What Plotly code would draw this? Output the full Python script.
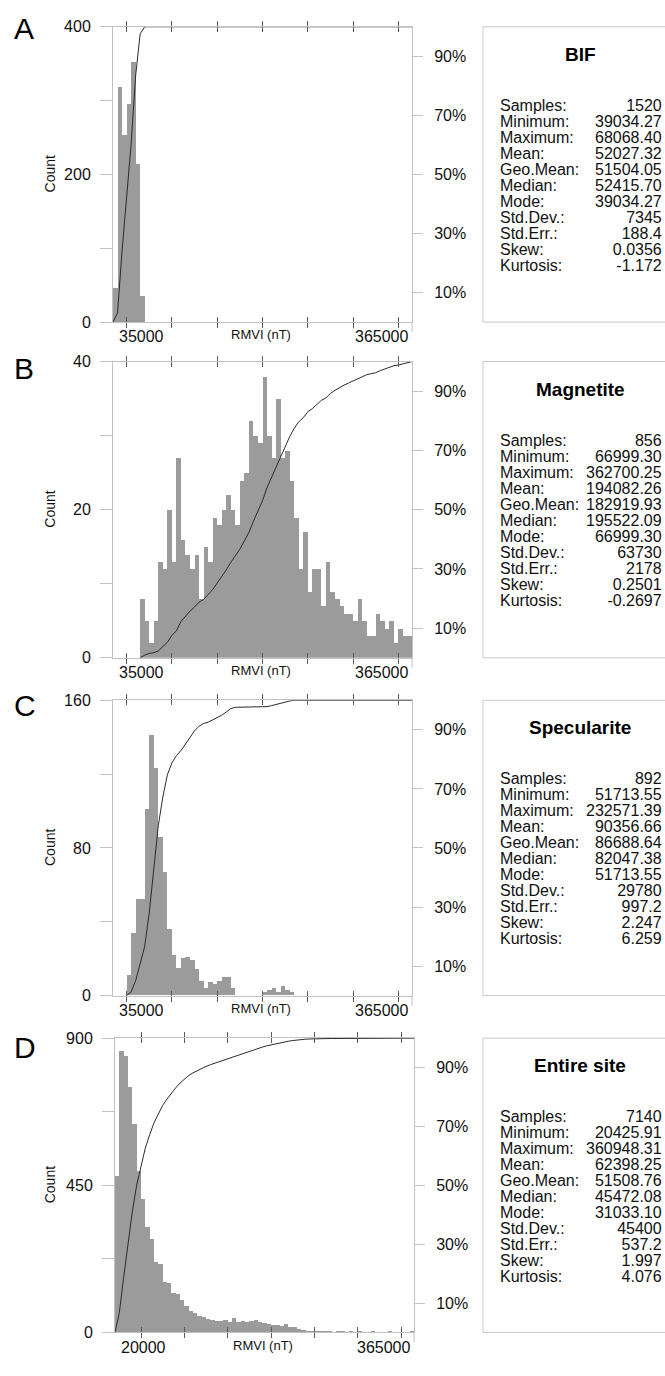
import plotly.graph_objects as go

# ---------------------------------------------------------------------------
# Data: RMVI histograms (5000 nT bins) and summary statistics per lithology
# ---------------------------------------------------------------------------
BIN_WIDTH = 5000

panel_letters = ["A", "B", "C", "D"]
panel_titles = ["BIF", "Magnetite", "Specularite", "Entire site"]

# first bin left edge (nT) and counts per bin
bif_start = 35000
bif_counts = [47, 319, 254, 296, 353, 215, 36]

magnetite_start = 65000
magnetite_counts = [
    8, 5, 2, 5, 13, 12, 20, 13, 27, 16,
    14, 12, 14, 8, 15, 13, 19, 18, 20, 22,
    20, 18, 24, 25, 32, 30, 29, 38, 30, 27,
    35, 27, 28, 24, 19, 12, 17, 9, 12, 12,
    7, 13, 9, 8, 7, 6, 6, 5, 8, 5,
    3, 3, 6, 5, 4, 5, 2, 4, 3, 3,
]

specularite_start = 50000
specularite_counts = [
    11, 34, 52, 52, 101, 141, 123, 86, 67, 36,
    22, 15, 20, 21, 19, 14, 8, 4, 7, 6,
    8, 10, 10, 4, 0, 0, 0, 0, 0, 0,
    2, 3, 4, 2, 5, 3, 2,
]

site_start = 20000
site_counts = [
    478, 861, 846, 750, 637, 494, 409, 322, 286, 214,
    210, 155, 150, 120, 118, 100, 82, 66, 58, 50,
    47, 42, 37, 36, 36, 38, 33, 43, 31, 35,
    31, 35, 39, 33, 30, 26, 23, 21, 18, 25,
    16, 15, 11, 7, 5, 5, 3, 2, 1, 1,
    0, 1, 3, 0, 1, 0, 1, 0, 0, 1,
    0, 0, 0, 1, 0, 0, 0, 0, 1,
]

# x-axis extents (nT) and count-axis maxima
x_min_values = [35000, 35000, 35000, 20000]
x_max_values = [365000, 365000, 365000, 365000]
count_max = [400, 40, 160, 900]
x_tick_values = [50000, 100000, 150000, 200000, 250000, 300000, 350000]
pct_tick_values = [10, 30, 50, 70, 90]

stat_labels = ["Samples:", "Minimum:", "Maximum:", "Mean:", "Geo.Mean:", "Median:",
               "Mode:", "Std.Dev.:", "Std.Err.:", "Skew:", "Kurtosis:"]
bif_stats = ["1520", "39034.27", "68068.40", "52027.32", "51504.05", "52415.70",
             "39034.27", "7345", "188.4", "0.0356", "-1.172"]
magnetite_stats = ["856", "66999.30", "362700.25", "194082.26", "182919.93", "195522.09",
                   "66999.30", "63730", "2178", "0.2501", "-0.2697"]
specularite_stats = ["892", "51713.55", "232571.39", "90356.66", "86688.64", "82047.38",
                     "51713.55", "29780", "997.2", "2.247", "6.259"]
site_stats = ["7140", "20425.91", "360948.31", "62398.25", "51508.76", "45472.08",
              "31033.10", "45400", "537.2", "1.997", "4.076"]

starts = [bif_start, magnetite_start, specularite_start, site_start]
counts = [bif_counts, magnetite_counts, specularite_counts, site_counts]
stats = [bif_stats, magnetite_stats, specularite_stats, site_stats]

# ---------------------------------------------------------------------------
# Page geometry (pixels)
# ---------------------------------------------------------------------------
W, H = 665, 1376
FONT = "Liberation Sans, Arial, sans-serif"
AXIS_GREY = "#c2c2c2"
BAR_GREY = "#9b9b9b"

frames = [  # left, right, top, bottom of each histogram frame
    (113, 412, 19, 318),
    (113, 412, 358, 658),
    (113, 412, 701, 1000),
    (115, 414, 1043, 1341),
]
letter_y = [21, 365, 706, 1053]
BOX_LEFT, BOX_RIGHT = 483, 680

STAT_FONT = 16          # glyph size of the statistics rows
ROW_STEP = 16           # pixel distance between statistics rows
BASE_FONT = ROW_STEP / 1.3   # plotly spaces <br> lines at 1.3 x base size


def fx(p):
    return p / W


def fy(p):
    return 1 - p / H


def stacked(lines):
    return "<br>".join(f"<span style='font-size:{STAT_FONT}px'>{t}</span>" for t in lines)


fig = go.Figure()
annotations = []
shapes = []
layout = {}

for i in range(4):
    left, right, top, bottom = frames[i]
    n = i + 1
    xa = "x" if i == 0 else f"x{n}"
    yc = f"y{2 * i + 1}" if i > 0 else "y"
    yp = f"y{2 * i + 2}"
    xkey = "xaxis" if i == 0 else f"xaxis{n}"
    yckey = "yaxis" if i == 0 else f"yaxis{2 * i + 1}"
    ypkey = f"yaxis{2 * i + 2}"

    c = counts[i]
    edges = [starts[i] + k * BIN_WIDTH for k in range(len(c) + 1)]
    centers = [e + BIN_WIDTH / 2 for e in edges[:-1]]
    total = sum(c)
    cum = [0.0]
    run = 0
    for v in c:
        run += v
        cum.append(100.0 * run / total)
    cx = list(edges)
    cy = list(cum)
    if cx[-1] < x_max_values[i]:
        cx.append(x_max_values[i])
        cy.append(100.0)

    fig.add_trace(go.Bar(
        x=centers, y=c, width=BIN_WIDTH, marker=dict(color=BAR_GREY, line=dict(width=0)),
        xaxis=xa, yaxis=yc, showlegend=False, hoverinfo="skip",
    ))
    fig.add_trace(go.Scatter(
        x=cx, y=cy, mode="lines", line=dict(color="#2a2a2a", width=1),
        xaxis=xa, yaxis=yp, showlegend=False, hoverinfo="skip",
    ))

    ymax = count_max[i]
    step = ymax / 4
    ytv = [k * step for k in range(5)]
    ytt = [f"{int(v)}" if k % 2 == 0 else "" for k, v in enumerate(ytv)]

    layout[xkey] = dict(
        domain=[fx(left), fx(right)], range=[x_min_values[i], x_max_values[i]],
        tickvals=x_tick_values, ticktext=[""] * len(x_tick_values),
        ticks="inside", ticklen=5, tickcolor="#5a5a5a", tickwidth=1,
        showline=True, linecolor=AXIS_GREY, linewidth=1, mirror="allticks",
        showgrid=False, zeroline=False, anchor=yc, fixedrange=True,
    )
    layout[yckey] = dict(
        domain=[fy(bottom), fy(top)], range=[0, ymax],
        tickvals=ytv, ticktext=ytt, ticks="outside", ticklen=12,
        tickcolor=AXIS_GREY, showline=True, linecolor=AXIS_GREY, linewidth=1,
        showgrid=False, zeroline=False, anchor=xa, fixedrange=True,
        tickfont=dict(family=FONT, size=16, color="#111"), ticklabelstandoff=6,
    )
    layout[ypkey] = dict(
        overlaying=yc, side="right", range=[0, 100],
        tickvals=pct_tick_values, ticktext=[f"{v}%" for v in pct_tick_values],
        ticks="outside", ticklen=10, tickcolor=AXIS_GREY,
        showline=True, linecolor=AXIS_GREY, linewidth=1,
        showgrid=False, zeroline=False, anchor=xa, fixedrange=True,
        tickfont=dict(family=FONT, size=16, color="#111"), ticklabelstandoff=8,
    )

    # right frame edge runs slightly below the plot
    shapes.append(dict(type="line", xref="paper", yref="paper",
                       x0=fx(right), x1=fx(right), y0=fy(bottom), y1=fy(bottom + 10),
                       line=dict(color=AXIS_GREY, width=1)))

    # panel letter
    annotations.append(dict(text=panel_letters[i], x=fx(12), y=fy(letter_y[i]),
                            xref="paper", yref="paper", xanchor="left", yanchor="middle",
                            showarrow=False, font=dict(family=FONT, size=30, color="#000")))
    # count axis title
    annotations.append(dict(text="Count", x=fx(50), y=fy((top + bottom) / 2),
                            xref="paper", yref="paper", xanchor="center", yanchor="middle",
                            textangle=-90, showarrow=False,
                            font=dict(family=FONT, size=14, color="#111")))
    # x-axis end labels and title
    annotations.append(dict(text=f"{x_min_values[i]}", x=fx(left + 4), y=fy(bottom + 15),
                            xref="paper", yref="paper", xanchor="left", yanchor="middle",
                            showarrow=False, font=dict(family=FONT, size=16, color="#111")))
    annotations.append(dict(text=f"{x_max_values[i]}", x=fx(right - 2), y=fy(bottom + 15),
                            xref="paper", yref="paper", xanchor="right", yanchor="middle",
                            showarrow=False, font=dict(family=FONT, size=16, color="#111")))
    annotations.append(dict(text="RMVI (nT)", x=fx((left + right) / 2 - 2), y=fy(bottom + 13),
                            xref="paper", yref="paper", xanchor="center", yanchor="middle",
                            showarrow=False, font=dict(family=FONT, size=13, color="#111")))

    # statistics box
    shapes.append(dict(type="rect", xref="paper", yref="paper",
                       x0=fx(BOX_LEFT), x1=fx(BOX_RIGHT), y0=fy(bottom), y1=fy(top),
                       line=dict(color="#c8c8c8", width=1), fillcolor="rgba(0,0,0,0)"))
    annotations.append(dict(text=f"<b>{panel_titles[i]}</b>", x=fx(580), y=fy(top + 28),
                            xref="paper", yref="paper", xanchor="center", yanchor="middle",
                            showarrow=False, font=dict(family=FONT, size=19, color="#000")))
    rows_top = top + 70
    annotations.append(dict(text=stacked(stat_labels), x=fx(499), y=fy(rows_top),
                            xref="paper", yref="paper", xanchor="left", yanchor="top",
                            align="left", showarrow=False, borderpad=0,
                            font=dict(family=FONT, size=BASE_FONT, color="#111")))
    annotations.append(dict(text=stacked(stats[i]), x=fx(663), y=fy(rows_top),
                            xref="paper", yref="paper", xanchor="right", yanchor="top",
                            align="right", showarrow=False, borderpad=0,
                            font=dict(family=FONT, size=BASE_FONT, color="#111")))

fig.update_layout(
    width=W, height=H, margin=dict(l=0, r=0, t=0, b=0),
    paper_bgcolor="white", plot_bgcolor="white",
    barmode="overlay", bargap=0,
    annotations=annotations, shapes=shapes,
    font=dict(family=FONT),
    **layout,
)

fig.write_html("out.html", config={"displayModeBar": False})
